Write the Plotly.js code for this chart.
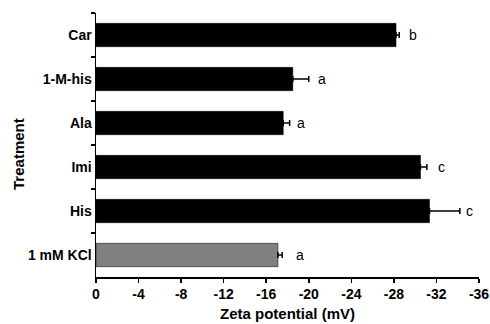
<!DOCTYPE html>
<html><head><meta charset="utf-8">
<script src="https://cdn.plot.ly/plotly-3.0.1.min.js"></script>
<style>html,body{margin:0;padding:0;background:#fff}#chart{width:490px;height:324px}</style>
</head><body><div id="chart"></div>
<script>
const categories = ["Car", "1-M-his", "Ala", "Imi", "His", "1 mM KCl"];
const zeta = [-28.2, -18.5, -17.6, -30.5, -31.35, -17.1];
const errors = [0.3, 1.5, 0.6, 0.6, 2.85, 0.4];
const letters = ["b", "a", "a", "c", "c", "a"];
const letterX = [-29.8, -21.2, -19.3, -32.5, -35.1, -19.2];
const barColors = ["#000000", "#000000", "#000000", "#000000", "#000000", "#808080"];
const xTicks = [0, -4, -8, -12, -16, -20, -24, -28, -32, -36];

const FONT = "Liberation Sans, Arial, sans-serif";

const trace = {
  type: "bar", orientation: "h",
  x: zeta, y: categories,
  width: 0.53,
  marker: {color: barColors, line: {color: "#000", width: 0.5}},
  error_x: {type: "data", symmetric: false, array: zeta.map(() => 0), arrayminus: errors,
            color: "#000", thickness: 1.5, width: 3},
  hoverinfo: "none"
};

const annotations = categories.map((c, i) => ({
  x: letterX[i], y: c, text: letters[i], showarrow: false,
  xanchor: "center", yanchor: "middle",
  font: {family: FONT, size: 14, color: "#000"}
}));
annotations.push({
  xref: "paper", yref: "paper", x: 0, y: 0.466, xshift: -77,
  text: "Treatment", textangle: -90, showarrow: false,
  xanchor: "center", yanchor: "middle",
  font: {family: FONT, size: 15, weight: "bold", color: "#000"}
});

const layout = {
  width: 490, height: 324,
  margin: {l: 96, r: 11, t: 13, b: 47, pad: 0},
  paper_bgcolor: "#fff", plot_bgcolor: "#fff",
  showlegend: false,
  font: {family: FONT, color: "#000"},
  xaxis: {
    range: [0, -36], tickvals: xTicks, ticktext: xTicks.map(String),
    showgrid: false, zeroline: false, showline: true, linecolor: "#000", linewidth: 1.5,
    ticks: "outside", ticklen: 4, tickwidth: 1.5, tickcolor: "#000",
    tickfont: {size: 14, weight: "bold"},
    title: {text: "Zeta potential (mV)", font: {size: 15, weight: "bold"}, standoff: 7}
  },
  yaxis: {
    type: "category", categoryorder: "array", categoryarray: categories,
    range: [5.5, -0.5],
    showgrid: false, zeroline: false, showline: true, linecolor: "#000", linewidth: 1.5,
    ticks: "outside", tickson: "boundaries", ticklen: 4, tickwidth: 1.5, tickcolor: "#000",
    tickfont: {size: 14, weight: "bold"}
  },
  annotations: annotations
};

Plotly.newPlot("chart", [trace], layout, {staticPlot: true, displayModeBar: false});
</script></body></html>
